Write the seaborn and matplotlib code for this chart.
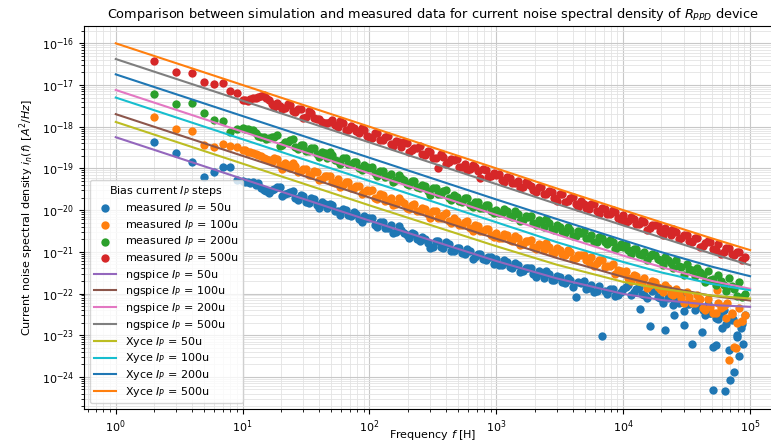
import numpy as np
import matplotlib
matplotlib.use("Agg")
import matplotlib.pyplot as plt
import matplotlib.ticker as mticker
import seaborn as sns

# --- Step 1: Measured noise spectra ---
freq_meas = [
    2, 3, 4, 5, 6, 7, 8, 9,
    10, 11, 12.1, 13.3, 14.7, 16.2, 17.8, 19.6, 21.5, 23.7, 26.1, 28.7,
    31.6, 34.8, 38.3, 42.2, 46.4, 51.1, 56.2, 61.9, 68.1, 75, 82.5, 90.9,
    100, 110, 121, 133, 147, 162, 178, 196, 215, 237, 261, 287,
    316, 348, 383, 422, 464, 511, 562, 619, 681, 750, 825, 909,
    1000, 1100, 1210, 1330, 1470, 1620, 1780, 1960, 2150, 2370, 2610, 2870,
    3160, 3480, 3830, 4220, 4640, 5110, 5620, 6190, 6810, 7500, 8250, 9090,
    10000, 11000, 12100, 13300, 14700, 16200, 17800, 19600, 21500, 23700, 26100, 28700,
    31600, 34800, 38300, 42200, 46400, 51100, 56200, 61900, 68100, 75000, 82500, 90900,
]

meas_50u = [
    4.3e-19, 2.3e-19, 1.45e-19, 6.3e-20, 8.3e-20, 1.1e-19, 1.07e-19, 5.2e-20,
    5.0e-20, 4.7e-20, 4.6e-20, 4.4e-20, 3.0e-20, 2.6e-20, 3.2e-20, 3.6e-20, 2.4e-20, 2.7e-20, 2.0e-20, 2.3e-20,
    1.6e-20, 1.9e-20, 1.35e-20, 1.55e-20, 1.1e-20, 1.3e-20, 9.5e-21, 1.05e-20, 7.5e-21, 8.8e-21, 6.2e-21, 7.2e-21,
    6.3e-21, 4.5e-21, 5.2e-21, 3.8e-21, 4.3e-21, 3.0e-21, 3.4e-21, 2.5e-21, 2.8e-21, 2.0e-21, 2.3e-21, 1.6e-21,
    1.3e-21, 1.8e-21, 1.25e-21, 1.5e-21, 1.05e-21, 1.25e-21, 9.0e-22, 1.05e-21, 7.6e-22, 9.0e-22, 6.5e-22, 7.5e-22,
    6.8e-22, 4.8e-22, 5.6e-22, 4.0e-22, 4.8e-22, 3.4e-22, 4.0e-22, 2.9e-22, 3.4e-22, 2.4e-22, 2.9e-22, 2.1e-22,
    2.5e-22, 1.8e-22, 2.1e-22, 8.3e-23, 1.8e-22, 1.3e-22, 1.6e-22, 1.15e-22, 9.5e-24, 1.0e-22, 1.3e-22, 9.0e-23,
    1.3e-22, 1.6e-22, 1.1e-22, 1.4e-22, 9.0e-23, 1.7e-23, 1.2e-22, 8.0e-23, 1.3e-23, 1.0e-22, 7.5e-23, 9.0e-23,
    5.5e-23, 6.0e-24, 6.0e-23, 4.0e-23, 5.5e-23, 5.2e-24, 2.5e-23, 4.0e-23, 4.4e-24, 1.3e-24, 3.2e-24, 3.0e-23,
]

meas_100u = [
    1.7e-18, 8.7e-19, 7.9e-19, 3.6e-19, 3.2e-19, 3.8e-19, 3.4e-19, 3.2e-19,
    2.8e-19, 2.5e-19, 2.4e-19, 2.1e-19, 1.8e-19, 1.6e-19, 1.75e-19, 1.2e-19, 1.35e-19, 1.0e-19, 1.15e-19, 8.5e-20,
    9.5e-20, 7.0e-20, 8.0e-20, 5.5e-20, 6.6e-20, 4.8e-20, 5.7e-20, 4.0e-20, 4.6e-20, 3.3e-20, 3.8e-20, 2.7e-20,
    2.8e-20, 2.0e-20, 2.4e-20, 1.7e-20, 2.0e-20, 1.4e-20, 1.65e-20, 1.15e-20, 1.35e-20, 9.5e-21, 1.15e-20, 8.0e-21,
    9.5e-21, 6.5e-21, 7.8e-21, 5.4e-21, 6.5e-21, 4.5e-21, 5.3e-21, 3.8e-21, 4.4e-21, 3.1e-21, 3.6e-21, 2.6e-21,
    2.9e-21, 2.1e-21, 2.5e-21, 1.8e-21, 2.1e-21, 1.5e-21, 1.8e-21, 1.3e-21, 1.55e-21, 1.1e-21, 1.3e-21, 9.5e-22,
    1.1e-21, 8.2e-22, 9.8e-22, 7.2e-22, 8.5e-22, 6.2e-22, 7.5e-22, 5.5e-22, 6.2e-22, 4.5e-22, 5.0e-22, 3.6e-22,
    3.2e-22, 2.4e-22, 2.8e-22, 2.0e-22, 2.4e-22, 1.6e-22, 1.9e-22, 1.3e-22, 1.6e-22, 1.0e-22, 1.3e-22, 8.0e-23,
    1.1e-22, 6.0e-23, 9.0e-23, 4.5e-23, 7.5e-23, 3.5e-23, 6.0e-23, 5.0e-23, 2.5e-24, 5.2e-24, 4.5e-23, 3.0e-23,
]

meas_200u = [
    6.0e-18, 3.5e-18, 3.7e-18, 2.1e-18, 1.45e-18, 1.35e-18, 7.6e-19, 8.7e-19,
    9.3e-19, 8.7e-19, 8.3e-19, 6.0e-19, 5.6e-19, 5.4e-19, 5.8e-19, 3.4e-19, 4.2e-19, 4.8e-19, 3.3e-19, 3.6e-19,
    2.6e-19, 3.1e-19, 2.2e-19, 2.5e-19, 1.8e-19, 2.1e-19, 1.5e-19, 1.75e-19, 1.25e-19, 1.45e-19, 1.0e-19, 1.2e-19,
    1.05e-19, 7.6e-20, 8.8e-20, 6.3e-20, 7.4e-20, 5.2e-20, 6.0e-20, 4.2e-20, 5.0e-20, 3.5e-20, 4.1e-20, 2.9e-20,
    3.4e-20, 2.4e-20, 2.8e-20, 2.0e-20, 2.35e-20, 1.65e-20, 1.95e-20, 1.35e-20, 1.6e-20, 1.15e-20, 1.35e-20, 9.5e-21,
    1.0e-20, 8.6e-21, 9.5e-21, 7.0e-21, 8.0e-21, 5.8e-21, 6.8e-21, 4.8e-21, 5.8e-21, 4.0e-21, 4.8e-21, 3.4e-21,
    4.0e-21, 2.9e-21, 3.4e-21, 2.4e-21, 2.9e-21, 2.1e-21, 2.5e-21, 1.75e-21, 2.1e-21, 1.5e-21, 1.75e-21, 1.3e-21,
    1.3e-21, 1.1e-21, 1.2e-21, 9.0e-22, 1.0e-21, 7.8e-22, 8.6e-22, 6.4e-22, 7.5e-22, 5.3e-22, 6.2e-22, 4.4e-22,
    5.0e-22, 3.6e-22, 4.2e-22, 2.8e-22, 3.4e-22, 2.2e-22, 2.8e-22, 1.6e-22, 2.3e-22, 1.3e-22, 1.9e-22, 1.0e-22,
]

meas_500u = [
    3.8e-17, 2.1e-17, 1.95e-17, 1.2e-17, 1.07e-17, 1.1e-17, 7.1e-18, 6.5e-18,
    4.4e-18, 4.2e-18, 4.8e-18, 5.2e-18, 5.8e-18, 4.4e-18, 3.0e-18, 3.1e-18, 2.8e-18, 3.3e-18, 2.2e-18, 2.6e-18,
    1.7e-18, 2.1e-18, 1.5e-18, 1.3e-18, 1.25e-18, 1.45e-18, 1.0e-18, 1.2e-18, 8.5e-19, 9.5e-19, 7.2e-19, 8.2e-19,
    5.8e-19, 7.2e-19, 4.9e-19, 5.6e-19, 3.8e-19, 4.6e-19, 3.2e-19, 4.1e-19, 2.7e-19, 3.1e-19, 2.2e-19, 2.6e-19,
    1.8e-19, 1.0e-19, 1.9e-19, 1.4e-19, 1.6e-19, 1.1e-19, 1.3e-19, 9.5e-20, 1.1e-19, 6.0e-20, 9.0e-20, 6.6e-20,
    7.0e-20, 5.2e-20, 6.3e-20, 4.4e-20, 5.0e-20, 3.6e-20, 4.3e-20, 3.0e-20, 3.5e-20, 2.4e-20, 2.9e-20, 2.0e-20,
    2.4e-20, 1.6e-20, 2.0e-20, 1.4e-20, 1.7e-20, 1.15e-20, 1.4e-20, 9.5e-21, 1.15e-20, 8.0e-21, 9.8e-21, 6.6e-21,
    7.5e-21, 5.4e-21, 6.0e-21, 4.6e-21, 5.2e-21, 3.8e-21, 4.3e-21, 3.1e-21, 3.7e-21, 2.6e-21, 3.0e-21, 2.1e-21,
    2.5e-21, 1.7e-21, 2.1e-21, 1.4e-21, 1.8e-21, 1.2e-21, 1.5e-21, 1.0e-21, 1.25e-21, 8.5e-22, 1.0e-21, 7.5e-22,
]

# second, interleaved set of measured bins (between the bins above)
freq_meas_mid = [
    10.5, 11.5, 12.7, 14.0, 15.4, 17.0, 18.7, 20.5, 22.6, 24.8, 27.4, 30.1,
    33.2, 36.5, 40.2, 44.2, 48.7, 53.6, 59.0, 64.9, 71.5, 78.7, 86.6, 95.3,
    105, 115, 127, 140, 154, 170, 187, 205, 226, 248, 274, 301,
    332, 365, 402, 442, 487, 536, 590, 649, 715, 787, 866, 953,
    1050, 1150, 1270, 1400, 1540, 1700, 1870, 2050, 2260, 2480, 2740, 3010,
    3320, 3650, 4020, 4420, 4870, 5360, 5900, 6490, 7150, 7870, 8660, 9530,
    10500, 11500, 12700, 14000, 15400, 17000, 18700, 20500, 22600, 24800, 27400, 30100,
    33200, 36500, 40200, 44200, 48700, 53600, 59000, 64900, 71500, 78700, 86600,
]

meas_50u_mid = [
    4.8e-20, 4.4e-20, 4.0e-20, 3.4e-20, 2.8e-20, 3.0e-20, 3.66e-20, 2.13e-20, 2.6e-20, 2.94e-20, 1.73e-20, 2.14e-20,
    1.52e-20, 1.84e-20, 1.11e-20, 1.4e-20, 1.44e-20, 9.5e-21, 7.6e-21, 1.03e-20, 7.4e-21, 8.2e-21, 5.2e-21, 6.5e-21,
    6.4e-21, 3.9e-21, 5.1e-21, 3.8e-21, 2.83e-21, 4.1e-21, 2.83e-21, 2.1e-21, 2.7e-21, 1.83e-21, 2.0e-21, 1.26e-21,
    1.83e-21, 1.27e-21, 1.69e-21, 1.04e-21, 1.21e-21, 9.2e-22, 1.18e-21, 6.9e-22, 9.0e-22, 6.7e-22, 7.7e-22, 5.0e-22,
    4.9e-22, 6.3e-22, 4.35e-22, 5.5e-22, 3.24e-22, 4.1e-22, 4.2e-22, 2.46e-22, 3.05e-22, 3.5e-22, 2.1e-22, 2.6e-22,
    1.9e-22, 2.34e-22, 1.45e-22, 1.86e-22, 1.96e-22, 1.32e-22, 1.1e-22, 1.54e-22, 1.14e-22, 1.3e-22, 8.7e-23, 1.1e-22,
    1.44e-22, 9.2e-23, 1.26e-22, 1.0e-22, 7.8e-23, 1.12e-22, 8.4e-23, 6.0e-23, 7.9e-23, 5.4e-23, 6.0e-23, 3.75e-23,
    5.6e-23, 4.0e-23, 5.1e-23, 3.0e-23, 3.5e-23, 2.6e-23, 3.3e-23, 1.9e-23, 2.3e-23, 9.0e-24, 1.9e-23,
]

meas_100u_mid = [
    2.7e-19, 2.45e-19, 2.2e-19, 1.95e-19, 1.7e-19, 1.45e-19, 1.7e-19, 9.9e-20, 1.2e-19, 1.37e-19, 8.1e-20, 9.9e-20,
    7.0e-20, 8.5e-20, 5.2e-20, 6.5e-20, 6.6e-20, 4.4e-20, 3.5e-20, 4.8e-20, 3.4e-20, 3.8e-20, 2.5e-20, 3.0e-20,
    2.98e-20, 1.81e-20, 2.36e-20, 1.77e-20, 1.32e-20, 1.91e-20, 1.46e-20, 1.08e-20, 1.4e-20, 9.5e-21, 1.05e-20, 6.5e-21,
    9.4e-21, 6.5e-21, 8.3e-21, 4.8e-21, 5.6e-21, 4.3e-21, 5.5e-21, 3.2e-21, 4.1e-21, 3.1e-21, 3.6e-21, 2.3e-21,
    2.1e-21, 2.7e-21, 1.94e-21, 2.44e-21, 1.46e-21, 1.85e-21, 1.9e-21, 1.14e-21, 1.42e-21, 1.64e-21, 9.9e-22, 1.24e-21,
    9.0e-22, 1.1e-21, 6.8e-22, 8.4e-22, 8.6e-22, 5.7e-22, 4.6e-22, 6.2e-22, 4.3e-22, 4.6e-22, 3.0e-22, 3.5e-22,
    3.4e-22, 2.0e-22, 2.6e-22, 1.9e-22, 1.38e-22, 1.95e-22, 1.46e-22, 1.08e-22, 1.37e-22, 9.0e-23, 1.0e-22, 5.9e-23,
    8.4e-23, 5.9e-23, 7.3e-23, 4.1e-23, 4.7e-23, 3.5e-23, 4.4e-23, 2.6e-23, 3.3e-23, 2.0e-23, 2.2e-23,
]

meas_200u_mid = [
    9.0e-19, 8.5e-19, 7.0e-19, 5.8e-19, 5.0e-19, 5.6e-19, 6.2e-19, 3.6e-19, 4.4e-19, 5.0e-19, 2.95e-19, 3.6e-19,
    2.6e-19, 3.1e-19, 1.9e-19, 2.4e-19, 2.45e-19, 1.6e-19, 1.28e-19, 1.75e-19, 1.26e-19, 1.39e-19, 9.0e-20, 1.1e-19,
    1.08e-19, 6.6e-20, 8.6e-20, 6.4e-20, 4.8e-20, 7.0e-20, 5.3e-20, 3.9e-20, 5.1e-20, 3.45e-20, 3.8e-20, 2.35e-20,
    3.4e-20, 2.4e-20, 3.0e-20, 1.76e-20, 2.05e-20, 1.57e-20, 1.98e-20, 1.17e-20, 1.53e-20, 1.15e-20, 1.31e-20, 8.5e-21,
    8.5e-21, 1.09e-20, 7.4e-21, 9.5e-21, 5.5e-21, 7.1e-21, 7.1e-21, 4.3e-21, 5.2e-21, 6.0e-21, 3.55e-21, 4.4e-21,
    3.2e-21, 3.9e-21, 2.4e-21, 3.1e-21, 3.2e-21, 2.1e-21, 1.7e-21, 2.3e-21, 1.7e-21, 1.88e-21, 1.2e-21, 1.5e-21,
    1.46e-21, 8.9e-22, 1.14e-21, 8.4e-22, 6.3e-22, 8.9e-22, 6.7e-22, 4.9e-22, 6.25e-22, 4.1e-22, 4.6e-22, 2.8e-22,
    3.9e-22, 2.7e-22, 3.3e-22, 1.9e-22, 2.15e-22, 1.57e-22, 1.98e-22, 1.17e-22, 1.53e-22, 8.5e-23, 8.2e-23,
]

meas_500u_mid = [
    4.3e-18, 4.5e-18, 5.0e-18, 5.5e-18, 5.0e-18, 3.6e-18, 3.7e-18, 2.7e-18, 3.6e-18, 2.4e-18, 2.65e-18, 1.65e-18,
    2.4e-18, 1.65e-18, 1.55e-18, 1.22e-18, 1.3e-18, 1.08e-18, 1.4e-18, 8.2e-19, 1.05e-18, 8.0e-19, 9.1e-19, 5.9e-19,
    5.3e-19, 6.9e-19, 4.7e-19, 5.9e-19, 3.4e-19, 4.3e-19, 4.3e-19, 2.5e-19, 3.1e-19, 3.5e-19, 2.05e-19, 2.5e-19,
    1.8e-19, 2.2e-19, 1.3e-19, 1.65e-19, 1.7e-19, 1.1e-19, 9.0e-20, 1.22e-19, 8.7e-20, 9.7e-20, 6.2e-20, 7.6e-20,
    7.5e-20, 4.6e-20, 6.0e-20, 4.5e-20, 3.3e-20, 4.85e-20, 3.7e-20, 2.75e-20, 3.55e-20, 2.4e-20, 2.65e-20, 1.65e-20,
    2.4e-20, 1.65e-20, 2.1e-20, 1.22e-20, 1.42e-20, 1.08e-20, 1.39e-20, 8.2e-21, 1.06e-20, 8.0e-21, 9.1e-21, 5.9e-21,
    5.3e-21, 6.9e-21, 4.7e-21, 5.9e-21, 3.4e-21, 4.3e-21, 4.3e-21, 2.5e-21, 3.1e-21, 3.5e-21, 2.05e-21, 2.5e-21,
    1.8e-21, 2.2e-21, 1.3e-21, 1.65e-21, 1.7e-21, 1.1e-21, 9.0e-22, 1.22e-21, 8.7e-22, 9.7e-22, 6.2e-22,
]

# extra scattered points at the high-frequency end
freq_extra_50u = [13500, 25000, 30000, 42000, 48000, 51000, 54000, 60000, 64000, 70000, 73000, 79000, 85000, 88000]
meas_extra_50u = [4.2e-23, 3.0e-23, 1.8e-23, 1.2e-23, 3.5e-23, 4.9e-25, 5.8e-24, 1.5e-23, 4.5e-25, 8.5e-25, 2.5e-23, 1.0e-23, 1.5e-23, 6.0e-24]
freq_extra_100u = [55000, 66000, 72000, 78000, 87000]
meas_extra_100u = [1.2e-22, 6.0e-23, 3.5e-23, 5.0e-24, 2.2e-23]

# --- Step 2: Simulated spectra (ngspice and Xyce) ---
freq_sim = [1, 10, 100, 1000, 3000, 10000, 20000, 50000, 100000]

ngspice_50u = [5.6e-19, 5.6e-20, 5.6e-21, 6.0e-22, 2.3e-22, 9.8e-23, 7.0e-23, 5.3e-23, 4.8e-23]
ngspice_100u = [2.0e-18, 2.0e-19, 2.0e-20, 2.05e-21, 7.1e-22, 2.5e-22, 1.5e-22, 8.8e-23, 6.8e-23]
ngspice_200u = [7.6e-18, 7.6e-19, 7.6e-20, 7.65e-21, 2.6e-21, 8.1e-22, 4.3e-22, 2.0e-22, 1.3e-22]
ngspice_500u = [4.2e-17, 4.2e-18, 4.2e-19, 4.2e-20, 1.4e-20, 4.3e-21, 2.2e-21, 9.0e-22, 4.8e-22]

xyce_50u = [1.3e-18, 1.3e-19, 1.3e-20, 1.36e-21, 4.9e-22, 1.9e-22, 1.3e-22, 8.9e-23, 7.6e-23]
xyce_100u = [5.0e-18, 5.0e-19, 5.0e-20, 5.1e-21, 1.7e-21, 5.7e-22, 3.2e-22, 1.7e-22, 1.2e-22]
xyce_200u = [1.8e-17, 1.8e-18, 1.8e-19, 1.8e-20, 6.1e-21, 1.9e-21, 9.8e-22, 4.4e-22, 2.6e-22]
xyce_500u = [1.0e-16, 1.0e-17, 1.0e-18, 1.0e-19, 3.3e-20, 1.0e-20, 5.1e-21, 2.1e-21, 1.1e-21]

bias_labels = ["50u", "100u", "200u", "500u"]
x_ticks = [1, 10, 100, 1000, 10000, 100000]
y_ticks = [1e-24, 1e-23, 1e-22, 1e-21, 1e-20, 1e-19, 1e-18, 1e-17, 1e-16]

# --- Step 3: Figure setup ---
plt.rcParams['font.family'] = ['DejaVu Sans']
plt.rcParams['font.size'] = 8
plt.rcParams['mathtext.fontset'] = 'dejavusans'

fig = plt.figure(figsize=(7.71, 4.43), dpi=100)
ax = fig.add_axes([0.109, 0.0767, 0.905, 0.8646])
ax.set_xscale('log')
ax.set_yscale('log')

# --- Step 4: Measured points ---
meas_sets = [
    (freq_meas + freq_meas_mid + freq_extra_50u, meas_50u + meas_50u_mid + meas_extra_50u, '#1f77b4'),
    (freq_meas + freq_meas_mid + freq_extra_100u, meas_100u + meas_100u_mid + meas_extra_100u, '#ff7f0e'),
    (freq_meas + freq_meas_mid, meas_200u + meas_200u_mid, '#2ca02c'),
    (freq_meas + freq_meas_mid, meas_500u + meas_500u_mid, '#d62728'),
]
for (fx, fy, col), lab in zip(meas_sets, bias_labels):
    sns.scatterplot(x=fx, y=fy, color=col, s=36, linewidth=0, alpha=1.0,
                    label=f"measured $I_P$ = {lab}", ax=ax, zorder=2)

# --- Step 5: Simulation lines ---
ng_sets = [(ngspice_50u, '#9467bd'), (ngspice_100u, '#8c564b'),
           (ngspice_200u, '#e377c2'), (ngspice_500u, '#7f7f7f')]
for (vals, col), lab in zip(ng_sets, bias_labels):
    sns.lineplot(x=freq_sim, y=vals, color=col, linewidth=1.5, estimator=None,
                 label=f"ngspice $I_P$ = {lab}", ax=ax, zorder=3)

xy_sets = [(xyce_50u, '#bcbd22'), (xyce_100u, '#17becf'),
           (xyce_200u, '#1f77b4'), (xyce_500u, '#ff7f0e')]
for (vals, col), lab in zip(xy_sets, bias_labels):
    sns.lineplot(x=freq_sim, y=vals, color=col, linewidth=1.5, estimator=None,
                 label=f"Xyce $I_P$ = {lab}", ax=ax, zorder=3)

# --- Step 6: Axes, grid, labels ---
ax.set_xlim(10 ** -0.25, 10 ** 5.25)
ax.set_ylim(10 ** -24.77, 10 ** -15.585)
ax.set_xticks(x_ticks)
ax.set_yticks(y_ticks)
ax.xaxis.set_minor_locator(mticker.LogLocator(base=10, subs=(2, 3, 4, 5, 6, 7, 8, 9), numticks=12))
ax.yaxis.set_minor_locator(mticker.LogLocator(base=10, subs=(2, 3, 4, 5, 6, 7, 8, 9), numticks=15))
ax.yaxis.set_minor_formatter(mticker.NullFormatter())
ax.xaxis.set_minor_formatter(mticker.NullFormatter())
ax.set_axisbelow(True)
ax.grid(True, which='major', color='#c8c8c8', linewidth=0.8)
ax.grid(True, which='minor', color='#e3e3e3', linewidth=0.6)
ax.tick_params(labelsize=8)

ax.set_title("Comparison between simulation and measured data for current noise spectral density of $R_{PPD}$ device",
             fontsize=9.3)
ax.set_xlabel("Frequency $f$ [H]", labelpad=-5)
ax.set_ylabel("Current noise spectral density $i_n(f)$ $[A^2/Hz]$")

handles, labels = ax.get_legend_handles_labels()
ax.legend(handles, labels, loc='lower left', title="Bias current $I_P$ steps",
          fontsize=8, title_fontsize=8, framealpha=0.8, labelspacing=0.25)

plt.savefig("out.png", dpi=100)
plt.close()
